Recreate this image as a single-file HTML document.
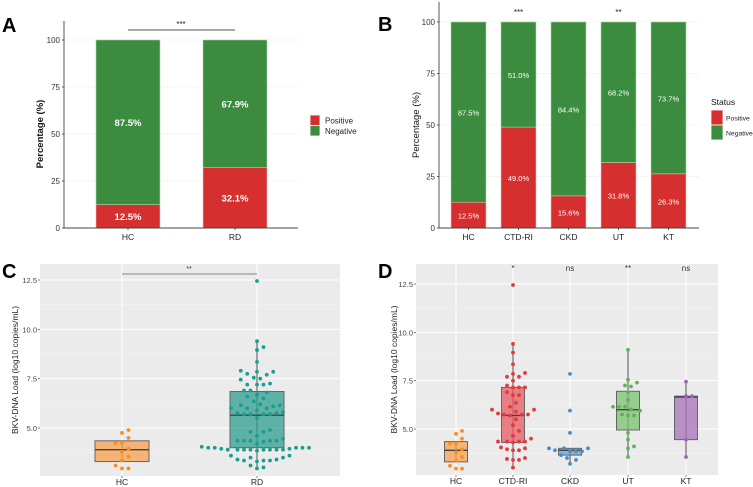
<!DOCTYPE html>
<html><head><meta charset="utf-8"><style>
body{margin:0;background:#fff;}
svg{display:block;font-family:"Liberation Sans",Arial,sans-serif;}
</style></head><body>
<svg id="fig" width="753" height="487" viewBox="0 0 753 487" xmlns="http://www.w3.org/2000/svg"></svg>
<script>
// ---- Panel A data ----
const aCats = ["HC","RD"];
const aPos = [12.5, 32.1];
const aNeg = [87.5, 67.9];
// ---- Panel B data ----
const bCats = ["HC","CTD-RI","CKD","UT","KT"];
const bPos = [12.5, 49.0, 15.6, 31.8, 26.3];
const bNeg = [87.5, 51.0, 84.4, 68.2, 73.7];
const bSig = ["", "***", "", "**", ""];
const pctTicks = [0,25,50,75,100];
// ---- Panel C data ----
const cCats = ["HC","RD"];
const cHC = [4.9,4.75,4.5,4.25,4.25,3.95,3.8,3.55,3.35,3.1,2.95,2.95];
const cRD = [12.45,9.4,8.95,9.1,8.35,7.85,7.85,7.9,7.7,7.75,7.55,7.5,7.45,7.25,7.2,7.2,7.2,6.9,6.9,6.8,6.7,6.6,6.5,6.35,6.2,6.15,6.15,6.1,6.0,6.0,6.0,5.9,5.8,5.75,5.7,5.7,5.7,5.7,5.75,5.5,4.9,4.8,4.8,4.6,4.45,4.35,4.35,4.35,4.35,4.3,4.35,4.2,4.05,4.0,4.0,4.0,3.95,3.95,3.9,3.9,3.9,3.9,3.9,3.85,3.9,3.9,3.9,4.0,4.0,3.6,3.6,3.5,3.4,3.35,3.35,3.3,3.35,3.4,3.5,3.1,3.0,2.95];
// box stats: [lowWhisker, q1, median, q3, highWhisker]
const cBoxHC = [3.3,3.3,3.9,4.35,4.35];
const cBoxRD = [2.95,4.0,5.65,6.85,9.4];
const loadTicks = [5.0,7.5,10.0,12.5];
// ---- Panel D data ----
const dCats = ["HC","CTD-RI","CKD","UT","KT"];
const dHC = cHC;
const dCTD = [12.45,9.4,8.95,8.35,7.85,7.7,7.9,7.7,7.5,7.25,7.15,7.15,7.15,6.9,6.75,6.75,6.35,6.15,6.0,6.0,5.9,5.8,5.75,5.75,5.75,5.7,5.5,5.2,4.9,4.65,4.5,4.35,4.35,4.35,4.35,4.3,4.05,4.0,3.95,3.9,3.9,3.5,3.4,3.4,3.45,3.0];
const dCKD = [7.85,5.95,4.8,4.0,4.0,4.0,3.9,3.85,3.85,3.85,3.65,3.5,3.4,3.2];
const dUT = [9.1,7.55,7.4,7.25,7.2,6.9,6.5,6.15,6.15,6.15,6.0,5.95,5.75,5.7,5.7,4.8,4.45,4.1,4.0,3.55];
const dKT = [7.45,6.7,6.7,4.45,3.55];
const dBoxes = [[3.3,3.3,3.9,4.35,4.35],[3.0,4.3,5.7,7.15,9.4],[3.2,3.65,3.9,4.0,4.0],[3.55,4.95,6.0,6.95,9.1],[3.55,4.45,6.65,6.7,7.45]];
const dSig = ["","*","ns","**","ns"];

const NS="http://www.w3.org/2000/svg";
const svg=document.getElementById('fig');
function mk(tag,attrs,parent,txt){const e=document.createElementNS(NS,tag);for(const k in attrs)e.setAttribute(k,attrs[k]);if(txt!==undefined)e.textContent=txt;(parent||svg).appendChild(e);return e;}

const GREEN="#3b8c3e", RED="#d52f2f";

[["A",2,32],["B",378,31],["C",2,278],["D",378,278]].forEach(p=>{
  const t=mk('text',{x:p[1],y:p[2],'font-size':20,'font-weight':'bold',fill:'#000'},svg,p[0]);
  
  
});

function stacked(cfg){
  const g=mk('g',{});
  
  
  const y=v=>cfg.y0+(cfg.y100-cfg.y0)*v/100;
  pctTicks.forEach(t=>{
    mk('line',{x1:cfg.ax,x2:cfg.axEnd,y1:y(t),y2:y(t),stroke:'#f0f0f0','stroke-width':0.8},g);
    const tl=mk('text',{x:cfg.ax-4,y:y(t)+3,'font-size':8,'text-anchor':'end',fill:'#333'},g,String(t));
    
    
    mk('line',{x1:cfg.ax-2,x2:cfg.ax,y1:y(t),y2:y(t),stroke:'#333','stroke-width':0.8},g);
  });
  cfg.cats.forEach((c,i)=>{
    const cx=cfg.x0+i*cfg.step, x=cx-cfg.bw/2;
    const r1=mk('rect',{x:x,y:y(cfg.pos[i]),width:cfg.bw,height:y(0)-y(cfg.pos[i]),fill:RED,stroke:'#f2b8b8','stroke-width':0.6},g);
    
    
    const r2=mk('rect',{x:x,y:y(100),width:cfg.bw,height:y(cfg.pos[i])-y(100),fill:GREEN,stroke:'#a8d3a8','stroke-width':0.6},g);
    
    
    const l1=mk('text',{x:cx,y:y(cfg.pos[i]/2)+3.5,'font-size':cfg.fs,'font-weight':cfg.fw,'text-anchor':'middle',fill:'#fff'},g,cfg.pos[i].toFixed(1)+'%');
    
    
    const l2=mk('text',{x:cx,y:y(cfg.pos[i]+cfg.neg[i]/2)+3.5,'font-size':cfg.fs,'font-weight':cfg.fw,'text-anchor':'middle',fill:'#fff'},g,cfg.neg[i].toFixed(1)+'%');
    
    
    const xl=mk('text',{x:cx,y:y(0)+12,'font-size':8.5,'text-anchor':'middle',fill:'#222'},g,c);
    
    
    mk('line',{x1:cx,x2:cx,y1:y(0),y2:y(0)+2,stroke:'#333','stroke-width':0.8},g);
    if(cfg.sig&&cfg.sig[i]){
      const s=mk('text',{x:cx,y:cfg.sigY,'font-size':8,'text-anchor':'middle',fill:'#222'},g,cfg.sig[i]);
      
      
    }
  });
  mk('line',{x1:cfg.ax,x2:cfg.ax,y1:cfg.axTop,y2:y(0),stroke:'#444','stroke-width':0.9},g);
  mk('line',{x1:cfg.ax,x2:cfg.axEnd,y1:y(0),y2:y(0),stroke:'#444','stroke-width':0.9},g);
  const yt=mk('text',{x:0,y:0,'font-size':9.5,'font-weight':cfg.yfw,'text-anchor':'middle',fill:'#111',transform:`translate(${cfg.ylx},${(y(0)+y(100))/2}) rotate(-90)`},g,'Percentage (%)');
  
  
  const lg=mk('g',{},g);
  
  
  if(cfg.title){const t=mk('text',{x:cfg.lx,y:cfg.ly-5,'font-size':8.5,fill:'#111'},lg,'Status');}
  [["Positive",RED],["Negative",GREEN]].forEach((e,k)=>{
    mk('rect',{x:cfg.lx,y:cfg.ly+k*cfg.lh,width:cfg.lw,height:cfg.lh,fill:e[1],stroke:'#fff','stroke-width':0.8},lg);
    const t=mk('text',{x:cfg.lx+cfg.lw+cfg.tg,y:cfg.ly+k*cfg.lh+cfg.lh/2+3,'font-size':cfg.title?6.8:8,fill:'#222'},lg,e[0]);
    
    
  });
  return g;
}
const gA=stacked({name:'panel-a-chart',cats:aCats,pos:aPos,neg:aNeg,y0:228,y100:40,ax:64,axEnd:298,axTop:21,x0:128,step:107,bw:64,fs:9.5,fw:'bold',yfw:'bold',ylx:43,lx:310,ly:115,lw:10,lh:10.5,tg:5,title:false});
mk('line',{x1:128,x2:235,y1:30,y2:30,stroke:'#555','stroke-width':0.9},gA);
{const s=mk('text',{x:181,y:27,'font-size':8,'text-anchor':'middle',fill:'#222'},gA,'***');}
stacked({name:'panel-b-chart',cats:bCats,pos:bPos,neg:bNeg,sig:bSig,sigY:15,y0:228,y100:22,ax:439,axEnd:699,axTop:2,x0:468.5,step:50,bw:35,fs:7.5,fw:'normal',yfw:'normal',ylx:419,lx:711,ly:110,lw:12,lh:15,tg:3,title:true});

function boxPanel(cfg){
  const g=mk('g',{});
  
  
  const y=v=>cfg.y5-(v-5)*cfg.ppu;
  const bg=mk('rect',{x:cfg.x0,y:cfg.top,width:cfg.x1-cfg.x0,height:cfg.bot-cfg.top,fill:'#ebebeb'},g);
  
  
  [3.75,6.25,8.75,11.25].forEach(t=>mk('line',{x1:cfg.x0,x2:cfg.x1,y1:y(t),y2:y(t),stroke:'#f5f5f5','stroke-width':0.5},g));
  loadTicks.forEach(t=>{
    mk('line',{x1:cfg.x0,x2:cfg.x1,y1:y(t),y2:y(t),stroke:'#fff','stroke-width':1},g);
    mk('line',{x1:cfg.x0-2,x2:cfg.x0,y1:y(t),y2:y(t),stroke:'#444','stroke-width':0.7},g);
    const tl=mk('text',{x:cfg.x0-3,y:y(t)+3,'font-size':7.5,'text-anchor':'end',fill:'#444'},g,t.toFixed(1));
    
    
  });
  cfg.cats.forEach((c,i)=>{
    const cx=cfg.cx[i];
    mk('line',{x1:cx,x2:cx,y1:cfg.top,y2:cfg.bot,stroke:'#fff','stroke-width':1},g);
    mk('line',{x1:cx,x2:cx,y1:cfg.bot,y2:cfg.bot+2,stroke:'#444','stroke-width':0.7},g);
    const xl=mk('text',{x:cx,y:cfg.bot+9,'font-size':8.5,'text-anchor':'middle',fill:'#222'},g,c);
    
    
    const b=cfg.boxes[i], col=cfg.cols[i];
    const bw=cfg.bw;
    const wl=mk('line',{x1:cx,x2:cx,y1:y(b[0]),y2:y(b[4]),stroke:'#555','stroke-width':1},g);
    
    
    const r=mk('rect',{x:cx-bw/2,y:y(b[3]),width:bw,height:Math.max(1,y(b[1])-y(b[3])),fill:col[1],'fill-opacity':0.75,stroke:'#666','stroke-width':1},g);
    
    
    mk('line',{x1:cx-bw/2,x2:cx+bw/2,y1:y(b[2]),y2:y(b[2]),stroke:'#444','stroke-width':1.4},g);
    // beeswarm placement
    const sorted=cfg.pts[i].map(v=>v).sort((a,b)=>a-b);
    const placed=[];
    const d=cfg.dx;
    sorted.forEach(v=>{
      const py=y(v);
      let off=0;
      for(let k=0;k<200;k++){
        const cand=(k%2===1?1:-1)*Math.ceil(k/2)*d/2;
        if(placed.every(p=>Math.hypot(p[0]-cand,p[1]-py)>=d)){off=cand;break;}
      }
      placed.push([off,py]);
      const p=mk('circle',{cx:cx+off,cy:py,r:1.9,fill:col[0]},g);
      
      
    });
  });
  const yt=mk('text',{x:0,y:0,'font-size':8.5,'text-anchor':'middle',fill:'#222',transform:`translate(${cfg.ylx},${(cfg.top+cfg.bot)/2}) rotate(-90)`},g,'BKV-DNA Load (log10 copies/mL)');
  
  
  return g;
}
const gC=boxPanel({name:'panel-c-chart',cats:cCats,cx:[122,257],pts:[cHC,cRD],boxes:[cBoxHC,cBoxRD],cols:[["#ff8c1a","#f7a24f"],["#1a9e8f","#2f9e8f"]],bw:54,dx:6.5,x0:40,x1:340,top:264,bot:476,y5:428,ppu:19.73,ylx:18});
mk('line',{x1:122,x2:257,y1:274,y2:274,stroke:'#999','stroke-width':1.2},gC);
{const s=mk('text',{x:189,y:271,'font-size':7,'text-anchor':'middle',fill:'#333'},gC,'**');}
const gD=boxPanel({name:'panel-d-chart',cats:dCats,cx:[456,513,570,628,686],pts:[dHC,dCTD,dCKD,dUT,dKT],boxes:dBoxes,cols:[["#ff8c1a","#f7a24f"],["#e8363c","#e55a60"],["#4a8cc8","#6a9fcc"],["#5ab552","#7cc070"],["#a062b5","#a872b8"]],bw:23,dx:6,x0:416,x1:718,top:264,bot:475,y5:429,ppu:19.33,ylx:397});
dCats.forEach((c,i)=>{ if(dSig[i]){const s=mk('text',{x:[456,513,570,628,686][i],y:271,'font-size':8,'text-anchor':'middle',fill:'#333'},gD,dSig[i]);}});
</script>
</body></html>
